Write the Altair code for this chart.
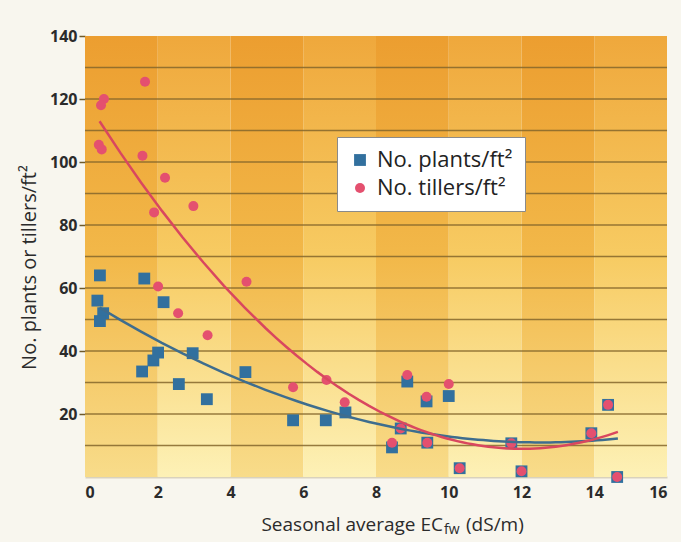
import altair as alt
import pandas as pd

# ---- data ----
series_names = ["No. plants/ft²", "No. tillers/ft²"]

plants_ec = [0.41, 0.34, 0.50, 0.41, 1.63, 2.16, 2.01, 1.88, 1.57, 2.96, 2.58, 3.35, 4.41, 5.72,
             6.62, 7.16, 8.86, 10.0, 9.39, 8.68, 8.44, 9.41, 10.3, 11.72, 12.0, 14.38, 13.92, 14.63]
plants_count = [64, 56, 52, 49.5, 63, 55.5, 39.5, 37, 33.5, 39.3, 29.5, 24.7, 33.3, 18,
                18, 20.5, 30.3, 25.7, 24, 15.4, 9.4, 10.9, 2.8, 10.7, 1.8, 22.9, 13.9, 0]

tillers_ec = [0.52, 0.44, 0.38, 0.46, 1.65, 1.58, 2.2, 2.98, 1.9, 2.01, 2.56, 3.37, 4.44, 5.72,
              6.64, 7.14, 8.86, 10.0, 9.39, 8.68, 8.44, 9.41, 10.3, 11.72, 12.0, 14.38, 13.92, 14.63]
tillers_count = [120, 118, 105.5, 104, 125.5, 102, 95, 86, 84, 60.5, 52, 45, 62, 28.5,
                 30.8, 23.7, 32.4, 29.5, 25.5, 15.4, 10.9, 10.9, 2.8, 10.7, 1.8, 22.9, 13.9, 0]

x_ticks = [0, 2, 4, 6, 8, 10, 12, 14, 16]
y_ticks = [20, 40, 60, 80, 100, 120, 140]
grid_values = [10, 20, 30, 40, 50, 60, 70, 80, 90, 100, 110, 120, 130]
band_start = [0, 2, 4, 6, 8, 10, 12, 14]
band_end = [2, 4, 6, 8, 10, 12, 14, 16]
band_kind = ["dark", "light", "dark", "light", "dark", "light", "dark", "light"]

# ---- styling ----
BLUE = "#32709E"
PINK = "#E4506F"
BLUE_LINE = "#3E6D8E"
PINK_LINE = "#D9475F"
FONT = "Open Sans"
TEXT = "#2b2b2b"

points = pd.DataFrame({
    "ec": plants_ec + tillers_ec,
    "count": plants_count + tillers_count,
    "series": [series_names[0]] * len(plants_ec) + [series_names[1]] * len(tillers_ec),
})
bands = pd.DataFrame({"start": band_start, "end": band_end, "kind": band_kind})
grid = pd.DataFrame({"v": grid_values})

xscale = alt.Scale(domain=[0, 16], nice=False, zero=False)
yscale = alt.Scale(domain=[0, 140], nice=False)

xaxis = alt.Axis(values=x_ticks, title=None, labelFont=FONT, labelFontSize=16, labelFontWeight="bold",
                 labelColor=TEXT, ticks=False, labelPadding=7, grid=False,
                 domainColor="#d9d2bd", domainWidth=2, format="d")
yaxis = alt.Axis(values=y_ticks, title="No. plants or tillers/ft²", titleFont=FONT, titleFontSize=20,
                 titleFontWeight="normal", titleColor=TEXT, titleAngle=-90, titleX=-56, titleY=231,
                 titleAlign="center", titleBaseline="middle",
                 labelFont=FONT, labelFontSize=16, labelFontWeight="bold", labelColor=TEXT,
                 tickSize=6, tickColor="#6f5a2a", tickWidth=1.5, labelPadding=2, domain=False,
                 grid=False, format="d")


def grad(stops):
    return {"gradient": "linear", "x1": 0, "y1": 0, "x2": 0, "y2": 1,
            "stops": [{"offset": o, "color": c} for o, c in stops]}


dark_fill = grad([(0, "#EC9E30"), (0.5, "#F2B849"), (1, "#F8DC8A")])
light_fill = grad([(0, "#EFA83C"), (0.5, "#F7CB62"), (1, "#FDF1B6")])

band_dark = alt.Chart(bands).transform_filter(alt.datum.kind == "dark").mark_rect(fill=dark_fill).encode(
    x=alt.X("start:Q", scale=xscale, axis=xaxis), x2="end:Q",
    y=alt.datum(0, scale=yscale, axis=yaxis), y2=alt.datum(140))
band_light = alt.Chart(bands).transform_filter(alt.datum.kind == "light").mark_rect(fill=light_fill).encode(
    x=alt.X("start:Q", scale=xscale, axis=xaxis), x2="end:Q",
    y=alt.datum(0, scale=yscale, axis=yaxis), y2=alt.datum(140))

gridlines = alt.Chart(grid).mark_rule(color="#84662B", strokeWidth=1.6, opacity=0.85).encode(
    y=alt.Y("v:Q", scale=yscale, axis=yaxis))

pts = alt.Chart(points).mark_point(filled=True, opacity=1, strokeWidth=0).encode(
    x=alt.X("ec:Q", scale=xscale, axis=xaxis),
    y=alt.Y("count:Q", scale=yscale, axis=yaxis),
    color=alt.Color("series:N", scale=alt.Scale(domain=series_names, range=[BLUE, PINK]),
                    legend=alt.Legend(title=None)),
    shape=alt.Shape("series:N", scale=alt.Scale(domain=series_names, range=["square", "circle"]),
                    legend=alt.Legend(title=None)),
    size=alt.Size("series:N", scale=alt.Scale(domain=series_names, range=[140, 100]),
                  legend=alt.Legend(title=None)),
)


def fit(name, color):
    return alt.Chart(points).transform_filter(alt.datum.series == name).transform_regression(
        "ec", "count", method="poly", order=2, extent=[0.4, 14.65]
    ).mark_line(color=color, strokeWidth=2.5).encode(
        x=alt.X("ec:Q", scale=xscale, axis=xaxis),
        y=alt.Y("count:Q", scale=yscale, axis=yaxis))


fit_plants = fit(series_names[0], BLUE_LINE)
fit_tillers = fit(series_names[1], PINK_LINE)

one = pd.DataFrame({"a": [0]})
xt1 = alt.Chart(one).mark_text(text="Seasonal average EC", font=FONT, fontSize=19, color=TEXT,
                               align="right", baseline="alphabetic").encode(x=alt.value(358), y=alt.value(495))
xt2 = alt.Chart(one).mark_text(text="fw", font=FONT, fontSize=14, color=TEXT,
                               align="left", baseline="alphabetic").encode(x=alt.value(359), y=alt.value(498))
xt3 = alt.Chart(one).mark_text(text="(dS/m)", font=FONT, fontSize=19, color=TEXT,
                               align="left", baseline="alphabetic").encode(x=alt.value(381), y=alt.value(495))

chart = alt.layer(band_dark, band_light, gridlines, pts, fit_plants, fit_tillers, xt1, xt2, xt3).properties(
    width=582, height=441,
    autosize=alt.AutoSizeParams(type="none"),
    padding={"left": 85, "top": 36, "right": 14, "bottom": 65},
    background="#F8F6EE",
).configure_view(stroke=None).configure_legend(
    orient="none", legendX=252, legendY=101, fillColor="white", strokeColor="#8a8a8a",
    padding=12, labelFont=FONT, labelFontSize=22, labelColor="#222", rowPadding=6,
    labelOffset=6, symbolStrokeWidth=0, cornerRadius=0,
)

chart.save("out.html", embed_options={"renderer": "svg", "actions": False})
